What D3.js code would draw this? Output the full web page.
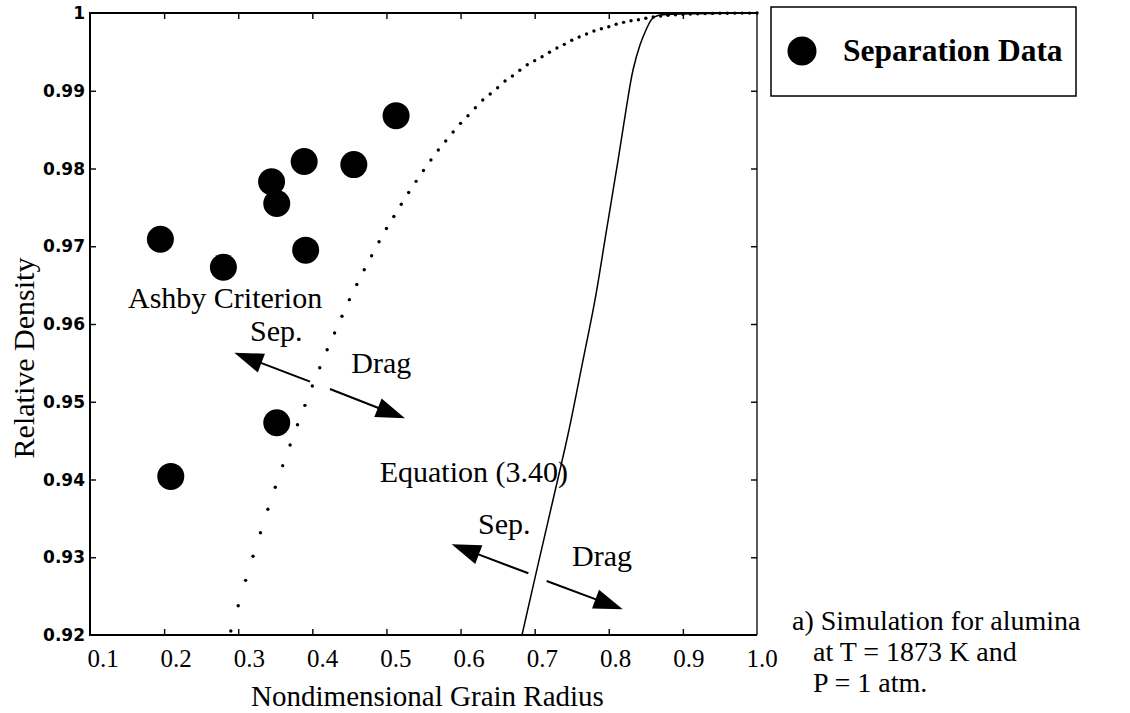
<!DOCTYPE html>
<html>
<head>
<meta charset="utf-8">
<script src="https://cdn.jsdelivr.net/npm/d3@7"></script>
<style>
  body { margin: 0; background: #fff; }
  svg { display: block; }
</style>
</head>
<body>
<svg id="chart" width="1130" height="713"></svg>
<script>
// ---- Axis ticks ----
const xTicks = [0.1, 0.2, 0.3, 0.4, 0.5, 0.6, 0.7, 0.8, 0.9, 1.0];
const xTickLabels = ["0.1", "0.2", "0.3", "0.4", "0.5", "0.6", "0.7", "0.8", "0.9", "1.0"];
const yTicks = [0.92, 0.93, 0.94, 0.95, 0.96, 0.97, 0.98, 0.99, 1.0];
const yTickLabels = ["0.92", "0.93", "0.94", "0.95", "0.96", "0.97", "0.98", "0.99", "1"];

// ---- Measured separation points ----
const sepRadius  = [0.513, 0.389, 0.456, 0.345, 0.352, 0.195, 0.280, 0.391, 0.352, 0.209];
const sepDensity = [0.9868, 0.9809, 0.9805, 0.9783, 0.9755, 0.9709, 0.9673, 0.9695, 0.9473, 0.9404];

// ---- Ashby criterion (dotted) ----
const ashbyRadius = [
  0.29, 0.30, 0.31, 0.32, 0.33, 0.34, 0.35, 0.36, 0.37, 0.38,
  0.39, 0.40, 0.41, 0.42, 0.43, 0.44, 0.45, 0.46, 0.47, 0.48,
  0.49, 0.50, 0.51, 0.52, 0.53, 0.54, 0.55, 0.56, 0.57, 0.58,
  0.59, 0.60, 0.61, 0.62, 0.63, 0.64, 0.65, 0.66, 0.67, 0.68,
  0.69, 0.70, 0.71, 0.72, 0.73, 0.74, 0.75, 0.76, 0.77, 0.78,
  0.79, 0.80, 0.81, 0.82, 0.83, 0.84, 0.85, 0.86, 0.87, 0.88,
  0.89, 0.90, 0.91, 0.92, 0.93, 0.94, 0.95, 0.96, 0.97, 0.98,
  0.99, 1.00
];
const ashbyDensity = [
  0.92051, 0.92377, 0.92703, 0.93012, 0.93316, 0.93617, 0.93900, 0.94178, 0.94444, 0.94705,
  0.94954, 0.95203, 0.95438, 0.95669, 0.95884, 0.96099, 0.96313, 0.96508, 0.96697, 0.96878,
  0.97057, 0.97228, 0.97383, 0.97540, 0.97691, 0.97835, 0.97974, 0.98109, 0.98238, 0.98354,
  0.98469, 0.98581, 0.98679, 0.98782, 0.98881, 0.98958, 0.99039, 0.99125, 0.99190, 0.99263,
  0.99335, 0.99387, 0.99438, 0.99495, 0.99550, 0.99597, 0.99649, 0.99691, 0.99730, 0.99768,
  0.99798, 0.99824, 0.99855, 0.99880, 0.99901, 0.99914, 0.99932, 0.99949, 0.99961, 0.99970,
  0.99978, 0.99983, 0.99987, 0.99990, 0.99992, 0.99995, 0.99996, 0.99997, 0.99998, 0.99999,
  0.99999, 1.00000
];

// ---- Equation (3.40) boundary (solid) ----
const eqRadius  = [0.6829, 0.7039, 0.7247, 0.7454, 0.7635, 0.7814, 0.7963, 0.8111, 0.8232, 0.8327, 0.8421, 0.8502, 0.8583, 0.8664, 0.8961, 1.0000];
const eqDensity = [0.92000, 0.92879, 0.93736, 0.94598, 0.95451, 0.96309, 0.97170, 0.98023, 0.98752, 0.99267, 0.99588, 0.99781, 0.99923, 0.99968, 0.99987, 1.00000];

// ---- Layout ----
const plot = { left: 90, right: 757, top: 13, bottom: 635 };
const svg = d3.select("#chart");
const serif = "'Liberation Serif', 'Times New Roman', serif";
const sans = "'DejaVu Sans', sans-serif";

const x = d3.scaleLinear().domain([0.1, 1.0]).range([plot.left, plot.right]);
const y = d3.scaleLinear().domain([0.92, 1.0]).range([plot.bottom, plot.top]);
// tick labels sit a little to the right of their ticks
const xLabelPos = d3.scaleLinear().domain([0.1, 1.0]).range([plot.left + 13, plot.right + 5]);

// ---- Inward ticks on all four sides ----
const tickLen = 6;
const innerX = xTicks.slice(1, -1), innerY = yTicks.slice(1, -1);
svg.append("g").attr("transform", `translate(0,${plot.bottom})`)
  .call(d3.axisTop(x).tickValues(innerX).tickSize(tickLen).tickFormat(""))
  .call(g => g.select(".domain").remove());
svg.append("g").attr("transform", `translate(0,${plot.top})`)
  .call(d3.axisBottom(x).tickValues(innerX).tickSize(tickLen).tickFormat(""))
  .call(g => g.select(".domain").remove());
svg.append("g").attr("transform", `translate(${plot.left},0)`)
  .call(d3.axisRight(y).tickValues(innerY).tickSize(tickLen).tickFormat(""))
  .call(g => g.select(".domain").remove());
svg.append("g").attr("transform", `translate(${plot.right},0)`)
  .call(d3.axisLeft(y).tickValues(innerY).tickSize(tickLen).tickFormat(""))
  .call(g => g.select(".domain").remove());
svg.selectAll(".tick line").attr("stroke", "#000").attr("stroke-width", 1.4);

// ---- Frame ----
const frame = svg.append("g").attr("stroke", "#000").attr("fill", "none");
frame.append("line").attr("x1", plot.left).attr("x2", plot.left).attr("y1", plot.top - 1).attr("y2", plot.bottom + 1).attr("stroke-width", 2);
frame.append("line").attr("x1", plot.left).attr("x2", plot.right).attr("y1", plot.bottom).attr("y2", plot.bottom).attr("stroke-width", 2);
frame.append("line").attr("x1", plot.left).attr("x2", plot.right).attr("y1", plot.top).attr("y2", plot.top).attr("stroke-width", 1.8);
frame.append("line").attr("x1", plot.right).attr("x2", plot.right).attr("y1", plot.top).attr("y2", plot.bottom).attr("stroke-width", 1.3);

// ---- Tick labels ----
svg.append("g").selectAll("text").data(xTicks).join("text")
  .attr("x", d => xLabelPos(d)).attr("y", plot.bottom + 32)
  .attr("text-anchor", "middle")
  .style("font-family", serif).style("font-size", "25px")
  .text((d, i) => xTickLabels[i]);

svg.append("g").selectAll("text").data(yTicks).join("text")
  .attr("x", plot.left - 5).attr("y", d => y(d))
  .attr("dy", "0.36em").attr("text-anchor", "end")
  .style("font-family", sans).style("font-weight", "bold").style("font-size", "17px")
  .text((d, i) => yTickLabels[i]);

// ---- Axis titles ----
svg.append("text")
  .attr("x", (plot.left + plot.right) / 2 + 4).attr("y", 706)
  .attr("text-anchor", "middle")
  .style("font-family", serif).style("font-size", "29px")
  .text("Nondimensional Grain Radius");
svg.append("text")
  .attr("transform", "translate(34,358) rotate(-90)")
  .attr("text-anchor", "middle")
  .style("font-family", serif).style("font-size", "30px")
  .text("Relative Density");

// ---- Curves ----
const ashby = ashbyRadius.map((r, i) => ({ r, d: ashbyDensity[i] }));
svg.append("g").selectAll("circle").data(ashby).join("circle")
  .attr("cx", p => x(p.r)).attr("cy", p => y(p.d)).attr("r", 1.7).attr("fill", "#000");

const eq = eqRadius.map((r, i) => ({ r, d: eqDensity[i] }));
svg.append("path").datum(eq)
  .attr("fill", "none").attr("stroke", "#000").attr("stroke-width", 1.5)
  .attr("d", d3.line().x(p => x(p.r)).y(p => y(p.d)).curve(d3.curveCatmullRom.alpha(0.5)));

// ---- Separation data ----
const sep = sepRadius.map((r, i) => ({ r, d: sepDensity[i] }));
svg.append("g").selectAll("circle").data(sep).join("circle")
  .attr("cx", p => x(p.r)).attr("cy", p => y(p.d)).attr("r", 13.5).attr("fill", "#000");

// ---- Annotations (positions in data units) ----
function arrow(x1, y1, x2, y2) {
  const ax = x(x1), ay = y(y1), bx = x(x2), by = y(y2);
  const ang = Math.atan2(by - ay, bx - ax);
  const L = 29, W = 10;
  const baseX = bx - L * Math.cos(ang), baseY = by - L * Math.sin(ang);
  svg.append("line").attr("x1", ax).attr("y1", ay)
    .attr("x2", bx - (L - 4) * Math.cos(ang)).attr("y2", by - (L - 4) * Math.sin(ang))
    .attr("stroke", "#000").attr("stroke-width", 2);
  const px = -Math.sin(ang), py = Math.cos(ang);
  svg.append("path")
    .attr("d", `M${bx},${by}L${baseX + W * px},${baseY + W * py}L${baseX - W * px},${baseY - W * py}Z`)
    .attr("fill", "#000");
}
arrow(0.3969, 0.95258, 0.2947, 0.95631);
arrow(0.4238, 0.95164, 0.5250, 0.94787);
arrow(0.6915, 0.92794, 0.5880, 0.93167);
arrow(0.7162, 0.92695, 0.8188, 0.92330);

function note(text, xv, yv, anchor) {
  svg.append("text").attr("x", x(xv)).attr("y", y(yv))
    .attr("text-anchor", anchor || "start")
    .style("font-family", serif).style("font-size", "30px")
    .text(text);
}
note("Ashby Criterion", 0.1513, 0.96206);
note("Sep.", 0.3159, 0.95781);
note("Drag", 0.4525, 0.95374);
note("Equation (3.40)", 0.7450, 0.93968, "end");
note("Sep.", 0.6235, 0.93299);
note("Drag", 0.7504, 0.92887);

// ---- Legend ----
const legend = svg.append("g");
legend.append("rect").attr("x", 771).attr("y", 7).attr("width", 305).attr("height", 89)
  .attr("fill", "none").attr("stroke", "#000").attr("stroke-width", 1.5);
legend.append("circle").attr("cx", 802).attr("cy", 51).attr("r", 14.5).attr("fill", "#000");
legend.append("text").attr("x", 843).attr("y", 61)
  .style("font-family", serif).style("font-weight", "bold").style("font-size", "31.5px")
  .text("Separation Data");

// ---- Caption ----
const caption = ["a) Simulation for alumina", "at T = 1873 K and", "P = 1 atm."];
svg.append("g").selectAll("text").data(caption).join("text")
  .attr("x", (d, i) => i === 0 ? 792 : 813)
  .attr("y", (d, i) => 630 + i * 31)
  .style("font-family", serif).style("font-size", "28px")
  .text(d => d);
</script>
</body>
</html>
